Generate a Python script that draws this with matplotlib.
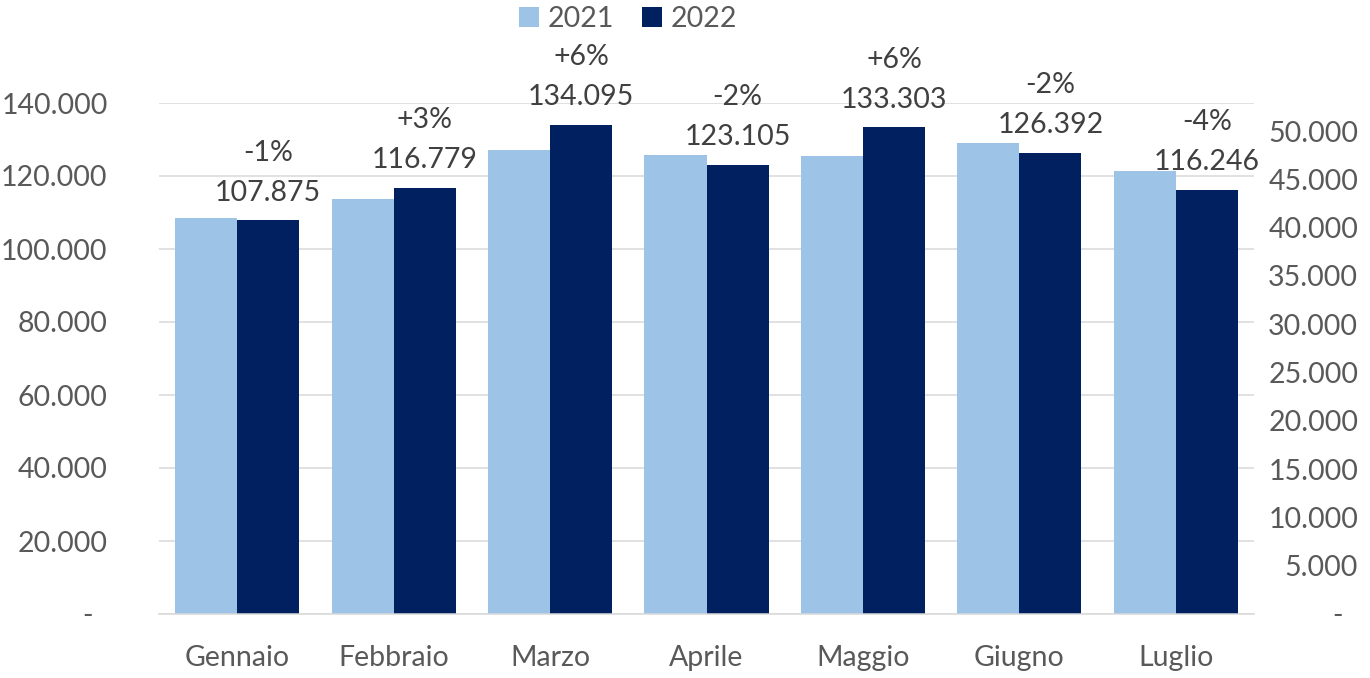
import matplotlib.pyplot as plt
import numpy as np

plt.rcParams['font.family'] = ['Lato', 'DejaVu Sans']

# DATA
mesi = ["Gennaio", "Febbraio", "Marzo", "Aprile", "Maggio", "Giugno", "Luglio"]
v2021 = [108500, 113700, 127000, 125650, 125450, 129000, 121500]
v2022 = [107875, 116779, 134095, 123105, 133303, 126392, 116246]
variazioni = ["-1%", "+3%", "+6%", "-2%", "+6%", "-2%", "-4%"]

left_ticks = list(range(0, 140001, 20000))
right_ticks = list(range(0, 50001, 5000))

c21 = "#9DC3E6"
c22 = "#002060"
txt = "#595959"
grid = "#D9D9D9"


def fmt(v):
    if v == 0:
        return "-  "
    return f"{v:,}".replace(",", ".")


fig = plt.figure(figsize=(13.7, 6.78), dpi=100)
ax = fig.add_axes([159 / 1370, 1 - 614 / 678, (1254 - 159) / 1370, (614 - 103) / 678])

x = np.arange(len(mesi))
w = 0.397
ax.bar(x - w / 2, v2021, w, color=c21, label="2021", zorder=2)
bars = ax.bar(x + w / 2, v2022, w, color=c22, label="2022", zorder=2)

ax.set_xlim(-0.5, len(mesi) - 0.5)
ax.set_ylim(0, 140000)
ax.set_yticks(left_ticks)
ax.set_yticklabels([fmt(v) for v in left_ticks])
ax.set_xticks(x)
ax.set_xticklabels(mesi)
ax.grid(axis="y", color=grid, lw=1.1, zorder=0)
for s in ["left", "right", "top"]:
    ax.spines[s].set_visible(False)
ax.spines["bottom"].set_color(grid)
ax.spines["bottom"].set_linewidth(1.1)
ax.tick_params(axis="y", length=0, pad=37, labelsize=20.5, labelcolor=txt)
ax.tick_params(axis="x", length=0, pad=22, labelsize=20.5, labelcolor=txt)

# value + percent labels above 2022 bars
for b, v, p in zip(bars, v2022, variazioni):
    cx = b.get_x() + b.get_width() / 2
    ax.annotate(fmt(v), (cx, v), xytext=(0, 14), textcoords="offset points",
                ha="center", va="baseline", fontsize=20.5, color="#404040")
    ax.annotate(p, (cx, v), xytext=(0, 43), textcoords="offset points",
                ha="center", va="baseline", fontsize=20.5, color="#404040")

# secondary axis
ax2 = ax.twinx()
ax2.set_ylim(0, 52900)
ax2.set_yticks(right_ticks)
ax2.set_yticklabels([fmt(v) for v in right_ticks], ha="right")
for s in ["left", "right", "top", "bottom"]:
    ax2.spines[s].set_visible(False)
ax2.tick_params(axis="y", length=0, pad=75, labelsize=20.5, labelcolor=txt)

leg = fig.legend(loc="center", bbox_to_anchor=(628 / 1370, 1 - 19 / 678), ncol=2,
                 frameon=False, fontsize=20.5, handlelength=0.7, handleheight=0.7,
                 handletextpad=0.3, columnspacing=1.0)
for t in leg.get_texts():
    t.set_color(txt)

fig.savefig("out.png", dpi=100)
